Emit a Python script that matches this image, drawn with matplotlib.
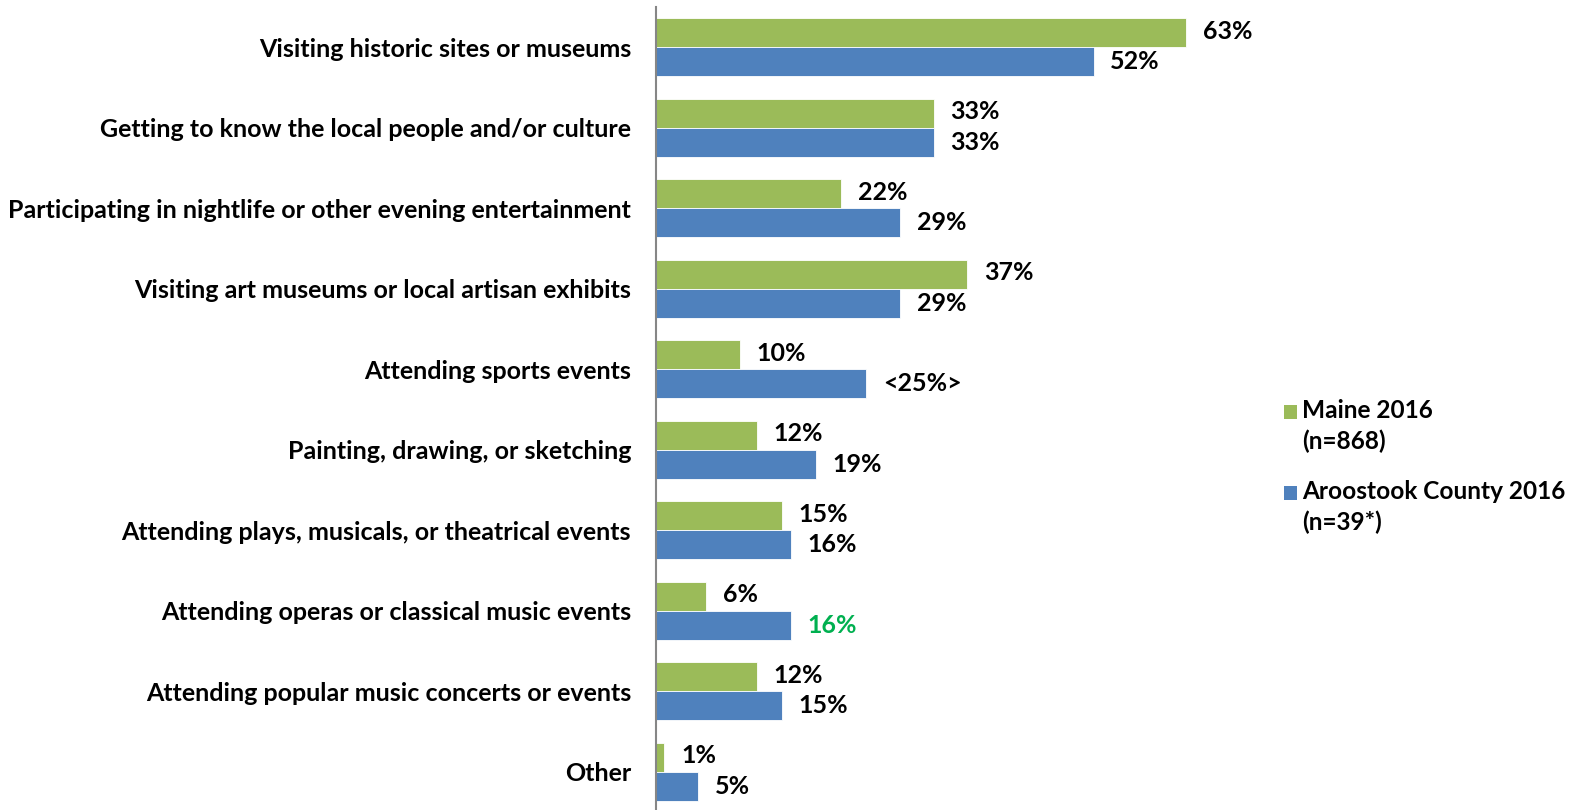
import matplotlib
matplotlib.use("Agg")
import matplotlib.pyplot as plt
import numpy as np
from matplotlib.patches import Rectangle

plt.rcParams['font.family'] = ['Lato', 'DejaVu Sans']
plt.rcParams['font.weight'] = 'bold'

categories = [
    "Visiting historic sites or museums",
    "Getting to know the local people and/or culture",
    "Participating in nightlife or other evening entertainment",
    "Visiting art museums or local artisan exhibits",
    "Attending sports events",
    "Painting, drawing, or sketching",
    "Attending plays, musicals, or theatrical events",
    "Attending operas or classical music events",
    "Attending popular music concerts or events",
    "Other",
]
maine = [63, 33, 22, 37, 10, 12, 15, 6, 12, 1]
aroostook = [52, 33, 29, 29, 25, 19, 16, 16, 15, 5]
aroostook_labels = ["52%", "33%", "29%", "29%", "<25%>", "19%", "16%", "16%", "15%", "5%"]
aroostook_label_colors = ["black"] * 7 + ["#00B050"] + ["black"] * 2

series_names = ["Maine 2016\n(n=868)", "Aroostook County 2016\n(n=39*)"]
GREEN = "#9BBB59"
BLUE = "#4F81BD"

fig = plt.figure(figsize=(15.76, 8.10), dpi=100)
# plot area: from y=7px down past the bottom edge so each category gets ~80.5px
ax = fig.add_axes([656 / 1576, -2 / 810, (1245 - 656) / 1576, 805 / 810])

n = len(categories)
y = np.arange(n)
h = 0.36
ax.barh(y - h / 2, maine, height=h, color=GREEN, edgecolor="white", linewidth=0.6)
ax.barh(y + h / 2, aroostook, height=h, color=BLUE, edgecolor="white", linewidth=0.6)

fs = 18
for i in range(n):
    ax.annotate(f"{maine[i]}%", (maine[i], y[i] - h / 2), xytext=(12, 1),
                textcoords="offset points", va="center", ha="left",
                fontsize=fs, fontweight="bold", color="black")
    ax.annotate(aroostook_labels[i], (aroostook[i], y[i] + h / 2), xytext=(12, 0),
                textcoords="offset points", va="center", ha="left",
                fontsize=fs, fontweight="bold", color=aroostook_label_colors[i])

ax.set_xlim(0, 70)
ax.set_ylim(n - 0.5, -0.5)
ax.set_yticks(y)
ax.set_yticklabels(categories, fontsize=fs, fontweight="bold")
ax.tick_params(axis="y", length=0, pad=18)
ax.set_xticks([])
for s in ["top", "right", "bottom"]:
    ax.spines[s].set_visible(False)
ax.spines["left"].set_color("#868686")
ax.spines["left"].set_linewidth(1.5)

# legend drawn in figure pixels
def px(xp, yp):
    return xp / 1576, 1 - yp / 810

for (top_y, color, name) in [(405, GREEN, series_names[0]), (486, BLUE, series_names[1])]:
    x0, y0 = px(1284, top_y + 14)
    fig.patches.append(Rectangle((x0, y0), 13 / 1576, 14 / 810, transform=fig.transFigure,
                                 facecolor=color, edgecolor="none"))
    fig.text(1302 / 1576, 1 - (top_y - 6) / 810, name, fontsize=17.6, fontweight="bold",
             va="top", ha="left", linespacing=1.38)

fig.savefig("out.png", dpi=100)
